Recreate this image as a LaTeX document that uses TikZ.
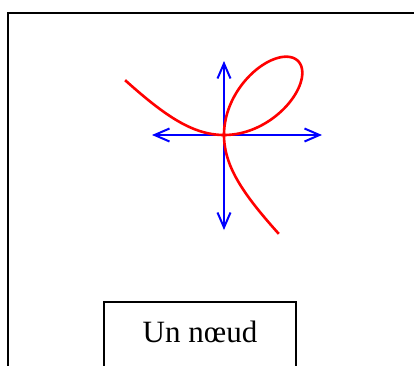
\documentclass[tikz,border=0pt]{standalone}
\usepackage{fontspec}
\setmainfont{Liberation Serif}
\usepackage{tikz}
\usetikzlibrary{arrows.meta, positioning}

\begin{document}
\begin{tikzpicture}[x=1pt, y=1pt, >={Straight Barb[length=15pt, width=13pt]},
    axe/.style={blue, line width=2pt, <->},
    courbe/.style={red, line width=2.6pt}]
    \useasboundingbox (-224,-230) rectangle (190,135);
    \clip (-224,-230) rectangle (190,135);
    \draw[line width=1.6pt] (-216,122) rectangle (210,-250);

    \coordinate (O) at (0,0);
    \coordinate (xg) at (-72,0);
    \coordinate (xd) at (98,0);
    \coordinate (yh) at (0,74);
    \coordinate (yb) at (0,-95);
    \draw[axe] (xg) -- (xd);
    \draw[axe] (yh) -- (yb);

    % folium de Descartes en polaire
    \draw[courbe, domain=-29:119, samples=240, variable=\t]
        plot ({148*sin(\t)*cos(\t)/(sin(\t)^3+cos(\t)^3)*cos(\t)},
              {148*sin(\t)*cos(\t)/(sin(\t)^3+cos(\t)^3)*sin(\t)});

    \node[draw, line width=1.6pt, anchor=north, minimum width=192pt,
          inner ysep=0pt, text height=40.7pt, text depth=45pt,
          font=\fontsize{31}{37}\selectfont] (titre) at (-24,-166) {Un n\oe ud};
\end{tikzpicture}
\end{document}
